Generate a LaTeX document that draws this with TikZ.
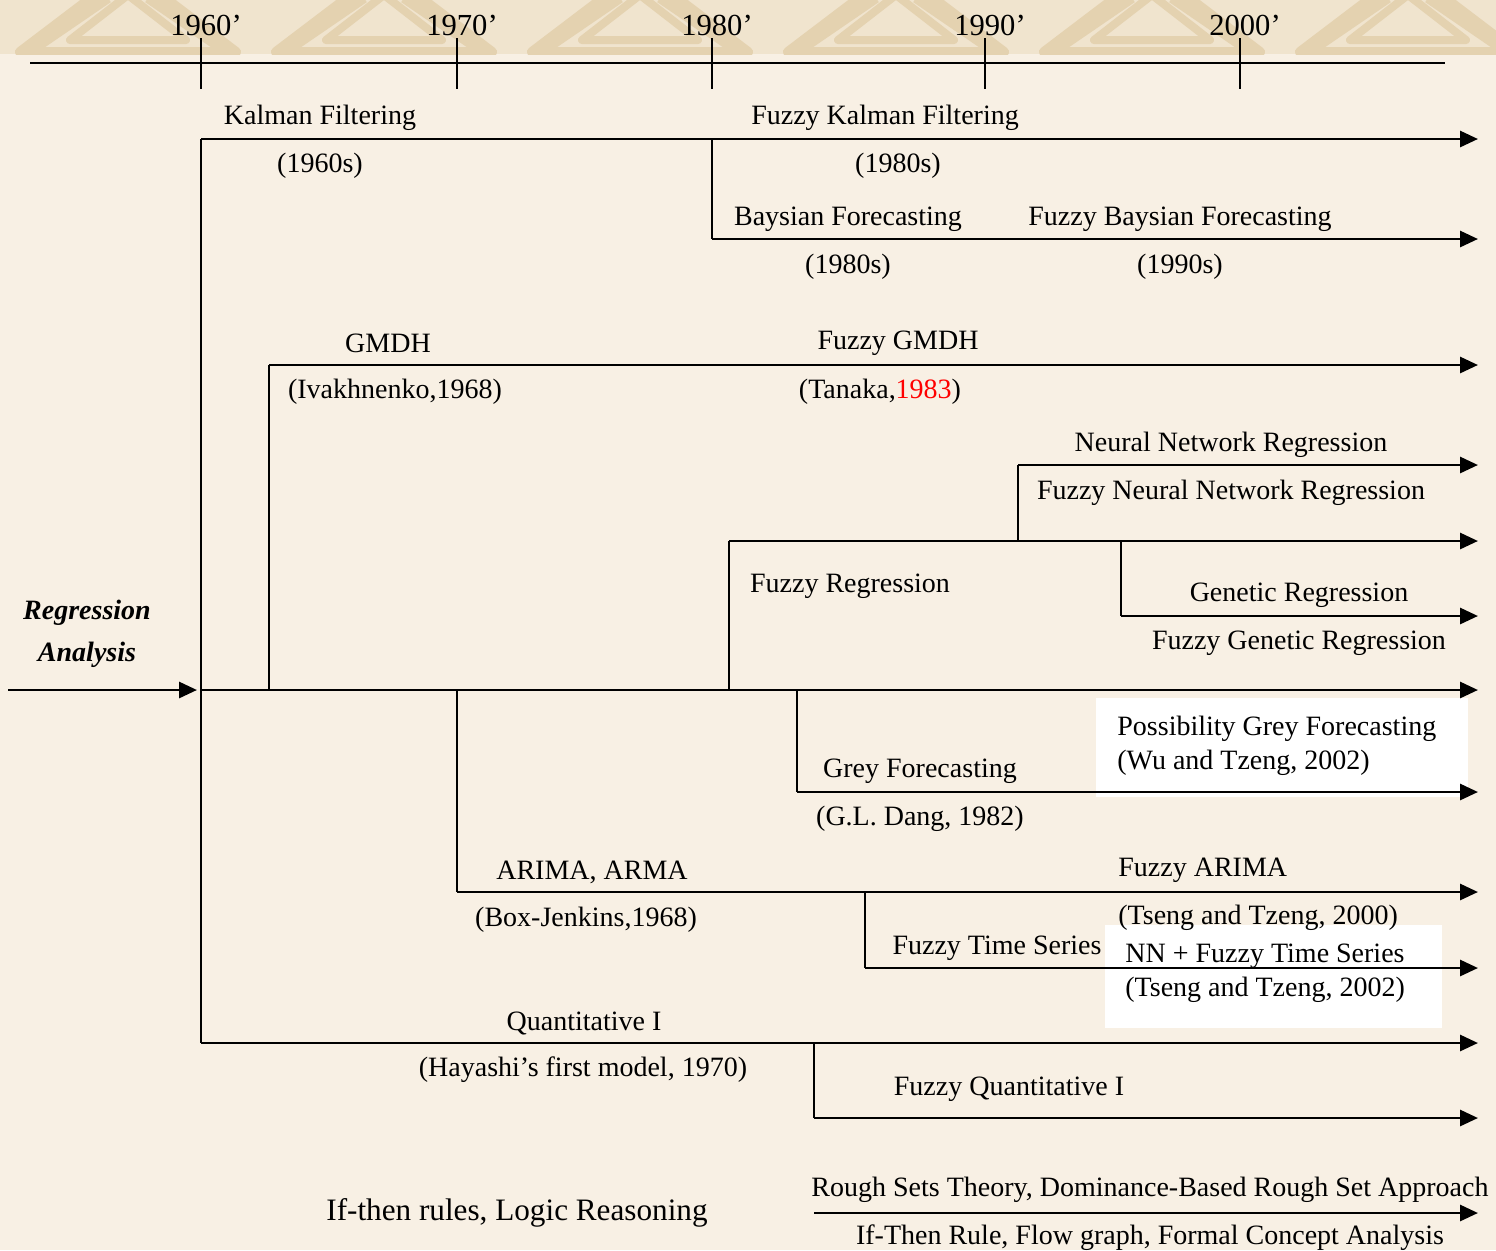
\documentclass[tikz,border=0pt]{standalone}
\usepackage{fontspec}
\setmainfont{Liberation Serif}
\usetikzlibrary{arrows.meta}
\definecolor{bg}{RGB}{248,240,228}
\definecolor{band}{RGB}{240,228,206}
\definecolor{deco}{RGB}{228,210,176}
\begin{document}
\begin{tikzpicture}[x=0.5pt,y=-0.5pt,
  lbl/.style={inner sep=0pt, font=\fontsize{14pt}{16pt}\selectfont},
  lblw/.style={lbl, anchor=west},
  ln/.style={line width=1.45pt},
  arr/.style={ln,-{Triangle[length=9pt,width=8pt]}},
  whitebox/.style={fill=white, draw=none}]
\useasboundingbox (0,0) rectangle (1496,1250);
\fill[bg] (0,0) rectangle (1496,1250);
% decorative band
\begin{scope}
\clip (0,0) rectangle (1496,54);
\fill[band] (0,0) rectangle (1496,54);
\foreach \i in {-1,0,...,6}{
  \draw[deco, line width=5pt, line join=round] (\i*256+20,52) -- (\i*256+128,-30) -- (\i*256+236,52) -- cycle;
  \draw[deco, line width=4pt, line join=round] (\i*256+70,40) -- (\i*256+128,-5) -- (\i*256+186,40) -- cycle;
  \draw[deco, line width=5pt, line join=round] (\i*256+148,-2) -- (\i*256+256,72) -- (\i*256+364,-2);
}
\end{scope}
% timeline
\coordinate (tl0) at (30,63);
\coordinate (tl1) at (1445,63);
\draw[ln] (tl0) -- (tl1);
\foreach \x/\t in {201/1960,457/1970,712/1980,985/1990,1240/2000}{
  \draw[ln] (\x,38) -- (\x,89);
  \node[lbl, font=\fontsize{15.3pt}{17pt}\selectfont] (y\t) at (\x+5,25) {\t’};
}
% junction coordinates
\coordinate (in0) at (8,690);
\coordinate (in1) at (197,690);
\coordinate (v0t) at (201,139);
\coordinate (v0b) at (201,1043);
\coordinate (kE) at (1478,139);
\coordinate (b0) at (712,139);
\coordinate (b1) at (712,239);
\coordinate (bE) at (1478,239);
\coordinate (g0) at (269,690);
\coordinate (g1) at (269,365);
\coordinate (gE) at (1478,365);
\coordinate (m0) at (201,690);
\coordinate (mE) at (1478,690);
\coordinate (fr0) at (729,690);
\coordinate (fr1) at (729,541);
\coordinate (frE) at (1478,541);
\coordinate (nn0) at (1018,541);
\coordinate (nn1) at (1018,465);
\coordinate (nnE) at (1478,465);
\coordinate (ge0) at (1121,541);
\coordinate (ge1) at (1121,616);
\coordinate (geE) at (1478,616);
\coordinate (gr0) at (797,690);
\coordinate (gr1) at (797,792);
\coordinate (grE) at (1478,792);
\coordinate (ar0) at (457,690);
\coordinate (ar1) at (457,892);
\coordinate (arE) at (1478,892);
\coordinate (ft0) at (865,892);
\coordinate (ft1) at (865,968);
\coordinate (ftE) at (1478,968);
\coordinate (q0) at (201,1043);
\coordinate (qE) at (1478,1043);
\coordinate (fq0) at (814,1043);
\coordinate (fq1) at (814,1118);
\coordinate (fqE) at (1478,1118);
\coordinate (r0) at (814,1213);
\coordinate (rE) at (1478,1213);
% white boxes
\fill[whitebox] (1096,698) rectangle (1468,797);
\fill[whitebox] (1105,925) rectangle (1442,1028);
% connectors
\draw[arr] (in0) -- (in1);
\draw[ln] (v0t) -- (v0b);
\draw[arr] (v0t) -- (kE);
\draw[ln] (b0) -- (b1);
\draw[arr] (b1) -- (bE);
\draw[ln] (g0) -- (g1);
\draw[arr] (g1) -- (gE);
\draw[arr] (m0) -- (mE);
\draw[ln] (fr0) -- (fr1);
\draw[arr] (fr1) -- (frE);
\draw[ln] (nn0) -- (nn1);
\draw[arr] (nn1) -- (nnE);
\draw[ln] (ge0) -- (ge1);
\draw[arr] (ge1) -- (geE);
\draw[ln] (gr0) -- (gr1);
\draw[arr] (gr1) -- (grE);
\draw[ln] (ar0) -- (ar1);
\draw[arr] (ar1) -- (arE);
\draw[ln] (ft0) -- (ft1);
\draw[arr] (ft1) -- (ftE);
\draw[arr] (q0) -- (qE);
\draw[ln] (fq0) -- (fq1);
\draw[arr] (fq1) -- (fqE);
\draw[arr] (r0) -- (rE);
% labels
\node[lbl] (kal) at (320,118) {Kalman Filtering};
\node[lbl] (kald) at (320,166) {(1960s)};
\node[lbl] (fkal) at (885,118) {Fuzzy Kalman Filtering};
\node[lbl] (fkald) at (898,166) {(1980s)};
\node[lbl] (bay) at (848,219) {Baysian Forecasting};
\node[lbl] (bayd) at (848,267) {(1980s)};
\node[lbl] (fbay) at (1180,219) {Fuzzy Baysian Forecasting};
\node[lbl] (fbayd) at (1180,267) {(1990s)};
\node[lbl] (gmdh) at (388,343) {GMDH};
\node[lbl] (gmdhd) at (395,392) {(Ivakhnenko,1968)};
\node[lbl] (fgmdh) at (898,343) {Fuzzy GMDH};
\node[lbl] (fgmdhd) at (880,392) {(Tanaka,\textcolor{red}{1983})};
\node[lbl] (nnr) at (1231,445) {Neural Network Regression};
\node[lbl] (fnnr) at (1231,493) {Fuzzy Neural Network Regression};
\node[lbl] (freg) at (850,586) {Fuzzy Regression};
\node[lbl] (gen) at (1299,595) {Genetic Regression};
\node[lbl] (fgen) at (1299,643) {Fuzzy Genetic Regression};
\node[lbl, font=\fontsize{14pt}{16pt}\selectfont\bfseries\itshape] (ra1) at (87,613) {Regression};
\node[lbl, font=\fontsize{14pt}{16pt}\selectfont\bfseries\itshape] (ra2) at (87,655) {Analysis};
\node[lblw] (pgf) at (1117,729) {Possibility Grey Forecasting};
\node[lblw] (pgfd) at (1117,763) {(Wu and Tzeng, 2002)};
\node[lbl] (grey) at (920,771) {Grey Forecasting};
\node[lbl] (greyd) at (920,819) {(G.L. Dang, 1982)};
\node[lbl] (arima) at (592,872) {ARIMA, ARMA};
\node[lbl] (arimad) at (586,920) {(Box-Jenkins,1968)};
\node[lblw] (farima) at (1118,870) {Fuzzy ARIMA};
\node[lblw] (farimad) at (1118,918) {(Tseng and Tzeng, 2000)};
\node[lbl] (fts) at (997,948) {Fuzzy Time Series};
\node[lblw] (nnfts) at (1125,956) {NN + Fuzzy Time Series};
\node[lblw] (nnftsd) at (1125,990) {(Tseng and Tzeng, 2002)};
\node[lbl] (quant) at (584,1023) {Quantitative I};
\node[lbl] (quantd) at (583,1070) {(Hayashi’s first model, 1970)};
\node[lbl] (fquant) at (1009,1089) {Fuzzy Quantitative I};
\node[lbl, font=\fontsize{15.6pt}{18pt}\selectfont] (ifthen) at (517,1213) {If-then rules, Logic Reasoning};
\node[lbl] (rough) at (1150,1190) {Rough Sets Theory, Dominance-Based Rough Set Approach};
\node[lbl] (rule) at (1150,1238) {If-Then Rule, Flow graph, Formal Concept Analysis};
\end{tikzpicture}
\end{document}
